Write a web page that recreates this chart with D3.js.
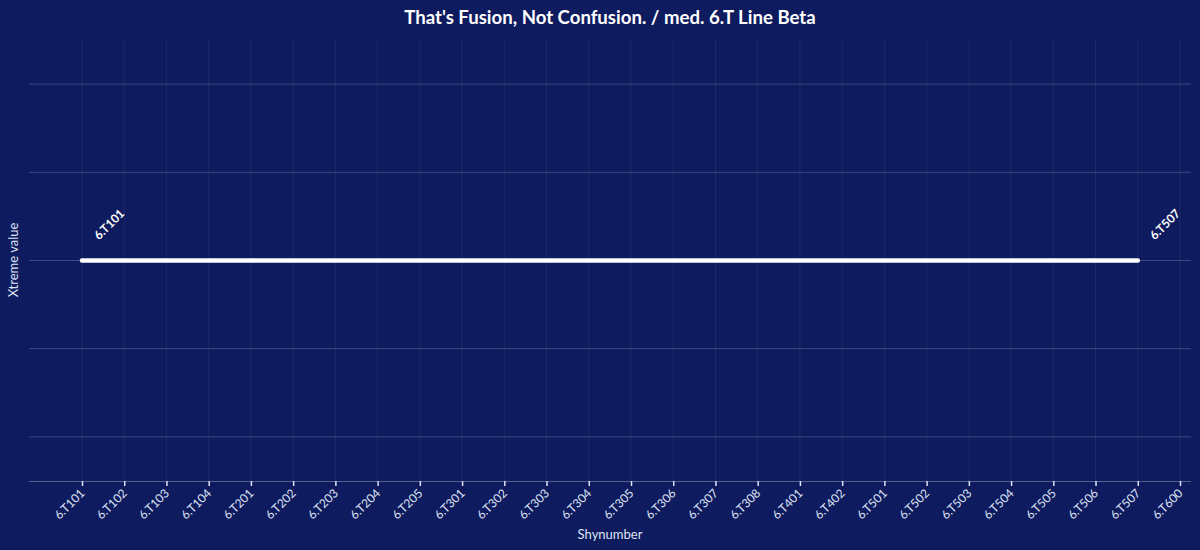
<!DOCTYPE html>
<html><head><meta charset="utf-8">
<script src="https://cdn.jsdelivr.net/npm/d3@7"></script>
<style>
html,body{margin:0;padding:0;background:#0e1b5e;}
svg{display:block;font-family:"Source Sans Pro","Lato","Noto Sans",sans-serif;}
</style></head>
<body><svg id="c" width="1200" height="550"></svg>
<script>
const categories = ["6.T101","6.T102","6.T103","6.T104","6.T201","6.T202","6.T203","6.T204","6.T205","6.T301","6.T302","6.T303","6.T304","6.T305","6.T306","6.T307","6.T308","6.T401","6.T402","6.T501","6.T502","6.T503","6.T504","6.T505","6.T506","6.T507","6.T600"];
const seriesCats = ["6.T101","6.T102","6.T103","6.T104","6.T201","6.T202","6.T203","6.T204","6.T205","6.T301","6.T302","6.T303","6.T304","6.T305","6.T306","6.T307","6.T308","6.T401","6.T402","6.T501","6.T502","6.T503","6.T504","6.T505","6.T506","6.T507"];
const seriesValues = [0,0,0,0,0,0,0,0,0,0,0,0,0,0,0,0,0,0,0,0,0,0,0,0,0,0];
const yTicks = [-1,-0.5,0,0.5,1];
const title = "That's Fusion, Not Confusion. / med. 6.T Line Beta";

const svg = d3.select("#c");
const W = 1200, H = 550;
const plotL = 29, plotR = 1191, plotT = 40, plotB = 481;
svg.append("rect").attr("width",W).attr("height",H).attr("fill","#0e1b5e");

const x = d3.scalePoint().domain(categories).range([82,1180]);
const y = d3.scaleLinear().domain([-1.25,1.25]).range([plotB,plotT]);

// vertical grid
svg.append("g").selectAll("line").data(categories).join("line")
  .attr("x1",d=>x(d)).attr("x2",d=>x(d)).attr("y1",plotT).attr("y2",plotB)
  .attr("stroke","rgba(255,255,255,0.06)").attr("stroke-width",1);
// horizontal grid
svg.append("g").selectAll("line").data(yTicks).join("line")
  .attr("x1",plotL).attr("x2",plotR).attr("y1",d=>y(d)).attr("y2",d=>y(d))
  .attr("stroke","rgba(255,255,255,0.2)").attr("stroke-width",1);

// x axis
const xAxis = svg.append("g").attr("transform",`translate(0,${plotB})`)
  .call(d3.axisBottom(x).tickSize(5).tickSizeOuter(0));
xAxis.select(".domain").attr("d",`M${plotL},0.5H${plotR}`).attr("stroke","rgba(255,255,255,0.3)");
xAxis.selectAll(".tick line").attr("stroke","#dfe3f5").attr("stroke-width",1.5);
xAxis.selectAll(".tick text")
  .attr("fill","#dfe3f5").attr("font-size",12)
  .attr("font-family",'"Source Sans Pro","Lato","Noto Sans",sans-serif')
  .attr("text-anchor","end").attr("dy",null).attr("y",null)
  .attr("transform","translate(3,13) rotate(-45)");

// line
const data = seriesCats.map((c,i)=>({c, v:seriesValues[i]}));
svg.append("path").datum(data)
  .attr("d",d3.line().x(d=>x(d.c)).y(d=>y(d.v)))
  .attr("fill","none").attr("stroke","#ffffff").attr("stroke-width",4.5)
  .attr("stroke-linecap","round").attr("stroke-linejoin","round");

// endpoint labels
[data[0], data[data.length-1]].forEach(d=>{
  svg.append("text")
    .attr("transform",`translate(${x(d.c)+17},${y(d.v)-20}) rotate(-45)`)
    .attr("text-anchor","start").attr("fill","#ffffff")
    .attr("font-size",12).attr("font-weight","bold").text(d.c);
});

// title
svg.append("text").attr("x",610).attr("y",24).attr("text-anchor","middle")
  .attr("fill","#ffffff").attr("font-size",18.6).attr("font-weight","bold").text(title);
// axis titles
svg.append("text").attr("x",610).attr("y",539).attr("text-anchor","middle")
  .attr("fill","#dfe3f5").attr("font-size",13).text("Shynumber");
svg.append("text").attr("transform","translate(18,260) rotate(-90)").attr("text-anchor","middle")
  .attr("fill","#dfe3f5").attr("font-size",13).text("Xtreme value");
</script></body></html>
